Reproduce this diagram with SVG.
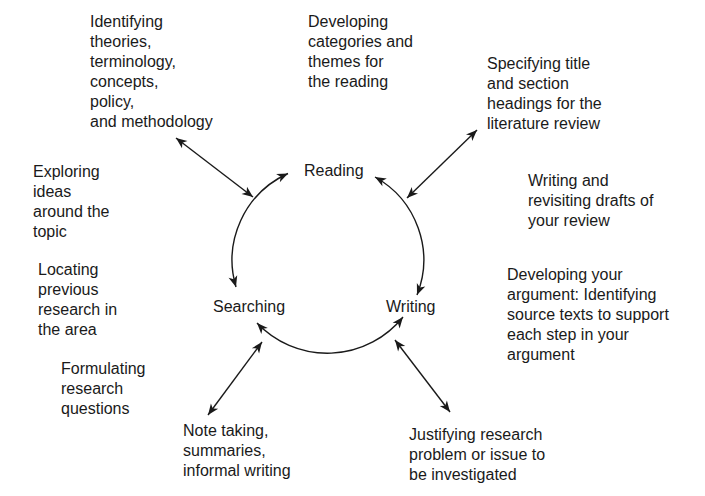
<svg xmlns="http://www.w3.org/2000/svg" width="705" height="496" viewBox="0 0 705 496">
<defs>
<style>
text{font-family:"Liberation Sans",Arial,Helvetica,sans-serif;font-size:16px;fill:#1a1a1a}
.c{fill:none;stroke:#1a1a1a;stroke-width:1.4}
</style>
<marker id="ah" viewBox="-12 -6 13 12" refX="0" refY="0" markerWidth="13" markerHeight="12" markerUnits="userSpaceOnUse" orient="auto-start-reverse">
<path d="M0,0 L-11,-4.5 L-8,0 L-11,4.5 Z" fill="#1a1a1a"/>
</marker>
</defs>
<rect width="705" height="496" fill="#fff"/>
<g id="connectors">
<path class="c" d="M236,287 A95,95 0 0 1 288,173.5" marker-start="url(#ah)" marker-end="url(#ah)"/>
<path class="c" d="M375,177 A95,95 0 0 1 417,295" marker-start="url(#ah)" marker-end="url(#ah)"/>
<path class="c" d="M257,323 A97,97 0 0 0 403,317" marker-start="url(#ah)" marker-end="url(#ah)"/>
<path class="c" d="M176,138 L253,197" marker-start="url(#ah)" marker-end="url(#ah)"/>
<path class="c" d="M477,130 L407,198" marker-start="url(#ah)" marker-end="url(#ah)"/>
<path class="c" d="M262,342 L208,415" marker-start="url(#ah)" marker-end="url(#ah)"/>
<path class="c" d="M395,340 L450,412" marker-start="url(#ah)" marker-end="url(#ah)"/>
</g>
<g id="reading"><text x="304" y="176">Reading</text></g>
<g id="searching"><text x="213" y="312">Searching</text></g>
<g id="writing"><text x="386" y="312">Writing</text></g>
<g id="identifying">
<text x="90" y="27">Identifying</text>
<text x="90" y="47">theories,</text>
<text x="90" y="67">terminology,</text>
<text x="90" y="87">concepts,</text>
<text x="90" y="107">policy,</text>
<text x="90" y="127">and methodology</text>
</g>
<g id="categories">
<text x="308" y="27">Developing</text>
<text x="308" y="47">categories and</text>
<text x="308" y="67">themes for</text>
<text x="308" y="87">the reading</text>
</g>
<g id="specifying">
<text x="487" y="69">Specifying title</text>
<text x="487" y="89">and section</text>
<text x="487" y="109">headings for the</text>
<text x="487" y="129">literature review</text>
</g>
<g id="exploring">
<text x="33" y="177">Exploring</text>
<text x="33" y="197">ideas</text>
<text x="33" y="217">around the</text>
<text x="33" y="237">topic</text>
</g>
<g id="locating">
<text x="38" y="275">Locating</text>
<text x="38" y="295">previous</text>
<text x="38" y="315">research in</text>
<text x="38" y="335">the area</text>
</g>
<g id="revisiting">
<text x="528" y="186">Writing and</text>
<text x="528" y="206">revisiting drafts of</text>
<text x="528" y="226">your review</text>
</g>
<g id="argument">
<text x="507" y="280">Developing your</text>
<text x="507" y="300">argument: Identifying</text>
<text x="507" y="320">source texts to support</text>
<text x="507" y="340">each step in your</text>
<text x="507" y="360">argument</text>
</g>
<g id="formulating">
<text x="61" y="374">Formulating</text>
<text x="61" y="394">research</text>
<text x="61" y="414">questions</text>
</g>
<g id="notetaking">
<text x="183" y="436">Note taking,</text>
<text x="183" y="456">summaries,</text>
<text x="183" y="476">informal writing</text>
</g>
<g id="justifying">
<text x="409" y="440">Justifying research</text>
<text x="409" y="460">problem or issue to</text>
<text x="409" y="480">be investigated</text>
</g>
</svg>
